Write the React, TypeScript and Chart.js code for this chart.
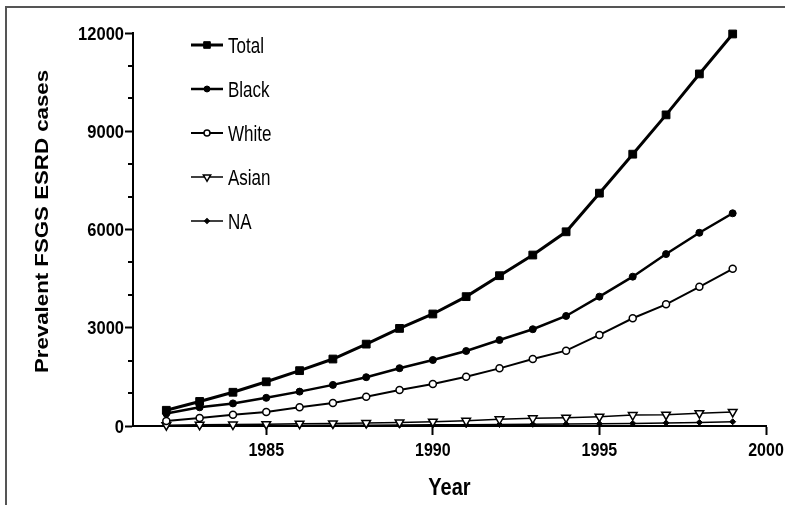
import React, { useEffect, useRef } from "react";
import { Chart, registerables } from "chart.js";

Chart.register(...registerables);

// ---- data ----
const years = [1982, 1983, 1984, 1985, 1986, 1987, 1988, 1989, 1990, 1991, 1992, 1993, 1994, 1995, 1996, 1997, 1998, 1999];
const total = [480, 750, 1030, 1350, 1690, 2045, 2500, 2980, 3420, 3950, 4590, 5220, 5930, 7110, 8300, 9500, 10750, 11970];
const black = [380, 570, 690, 860, 1050, 1255, 1490, 1765, 2015, 2290, 2625, 2955, 3360, 3950, 4560, 5250, 5900, 6495];
const white = [150, 245, 345, 430, 570, 705, 895, 1100, 1280, 1505, 1760, 2045, 2300, 2780, 3290, 3715, 4250, 4800];
const asian = [25, 35, 45, 55, 70, 80, 95, 110, 130, 160, 205, 235, 255, 285, 335, 345, 390, 430];
const na = [5, 8, 12, 15, 18, 22, 26, 30, 35, 40, 45, 52, 60, 70, 80, 95, 110, 130];
const seriesNames = ["Total", "Black", "White", "Asian", "NA"];
const yTickStep = 3000;
const yMinorStep = 1000;
const yMax = 12000;
const xMin = 1981;
const xMax = 2000;
const xTickStep = 5;
const yTitle = "Prevalent FSGS ESRD cases";
const xTitle = "Year";

const FONT = "'Liberation Sans', Arial, sans-serif";

function pts(vals: number[]) {
  return years.map((yr, i) => ({ x: yr, y: vals[i] }));
}

function drawMarker(ctx: CanvasRenderingContext2D, style: string, x: number, y: number, r: number, rot: number, fill: string, lw: number) {
  ctx.save();
  ctx.translate(x, y);
  ctx.rotate((rot * Math.PI) / 180);
  ctx.beginPath();
  if (style === "circle") ctx.arc(0, 0, r, 0, Math.PI * 2);
  else if (style === "rect") {
    const s = r * Math.SQRT1_2;
    ctx.rect(-s, -s, 2 * s, 2 * s);
  } else if (style === "rectRot") {
    const s = r * Math.SQRT1_2;
    ctx.rotate(Math.PI / 4);
    ctx.rect(-s, -s, 2 * s, 2 * s);
  } else if (style === "triangle") {
    ctx.moveTo(0, -r);
    ctx.lineTo(r * 0.866, r * 0.5);
    ctx.lineTo(-r * 0.866, r * 0.5);
    ctx.closePath();
  }
  ctx.fillStyle = fill;
  ctx.fill();
  ctx.lineWidth = lw;
  ctx.strokeStyle = "#000";
  ctx.stroke();
  ctx.restore();
}

function stretchedText(ctx: CanvasRenderingContext2D, text: string, x: number, y: number, sy: number, font: string, align: CanvasTextAlign) {
  ctx.save();
  ctx.fillStyle = "#000";
  ctx.translate(x, y);
  ctx.scale(1, sy);
  ctx.font = font;
  ctx.textAlign = align;
  ctx.textBaseline = "alphabetic";
  ctx.fillText(text, 0, 0);
  ctx.restore();
}

const decorPlugin = {
  id: "decor",
  beforeDraw(chart: any) {
    const ctx = chart.ctx as CanvasRenderingContext2D;
    ctx.save();
    ctx.fillStyle = "#fff";
    ctx.fillRect(0, 0, chart.width, chart.height);
    // picture frame (top & left edges)
    ctx.strokeStyle = "#555";
    ctx.lineWidth = 2;
    ctx.beginPath();
    ctx.moveTo(6, chart.height);
    ctx.lineTo(6, 7);
    ctx.lineTo(chart.width, 7);
    ctx.stroke();
    ctx.restore();
  },
  afterDraw(chart: any) {
    const ctx = chart.ctx as CanvasRenderingContext2D;
    const ys = chart.scales.y;
    const xs = chart.scales.x;
    const area = chart.chartArea;
    ctx.save();
    // minor y ticks
    ctx.strokeStyle = "#000";
    ctx.lineWidth = 2;
    ctx.beginPath();
    for (let v = yMinorStep; v < yMax; v += yMinorStep) {
      if (v % yTickStep === 0) continue;
      const py = Math.round(ys.getPixelForValue(v));
      ctx.moveTo(area.left - 5, py);
      ctx.lineTo(area.left, py);
    }
    ctx.stroke();

    // y tick labels (slightly tall, as in the reference)
    ys.ticks.forEach((t: any) => {
      const py = ys.getPixelForValue(t.value);
      stretchedText(ctx, String(t.value), area.left - 9, py + 6.6, 1.13, `bold 16.5px ${FONT}`, "right");
    });
    // x tick labels
    xs.ticks.forEach((t: any) => {
      const px = xs.getPixelForValue(t.value);
      stretchedText(ctx, String(t.value), px, 456, 1.13, `bold 16px ${FONT}`, "center");
    });

    // y title (rotated, stretched along its length)
    ctx.save();
    ctx.fillStyle = "#000";
    ctx.translate(48, (area.top + area.bottom) / 2 - 8);
    ctx.rotate(-Math.PI / 2);
    ctx.font = `bold 18px ${FONT}`;
    const w = ctx.measureText(yTitle).width;
    ctx.scale(303 / w, 1);
    ctx.textAlign = "center";
    ctx.textBaseline = "alphabetic";
    ctx.fillText(yTitle, 0, 0);
    ctx.restore();

    // x title
    stretchedText(ctx, xTitle, (xs.left + xs.right) / 2, 495, 1.18, `bold 20px ${FONT}`, "center");

    // legend
    const x0 = 191, x1 = 223, tx = 228, y0 = 45, step = 44;
    chart.data.datasets.forEach((ds: any, i: number) => {
      const ly = y0 + i * step;
      ctx.strokeStyle = "#000";
      ctx.lineWidth = ds.borderWidth;
      ctx.beginPath();
      ctx.moveTo(x0, ly);
      ctx.lineTo(x1, ly);
      ctx.stroke();
      drawMarker(ctx, ds.pointStyle, (x0 + x1) / 2, ly, ds.pointRadius * 0.85, ds.pointRotation || 0, ds.pointBackgroundColor, ds.pointBorderWidth);
      stretchedText(ctx, ds.label, tx, ly + 8, 1.3, `17px ${FONT}`, "left");
    });
    ctx.restore();
  },
};

export default function App() {
  const ref = useRef<HTMLCanvasElement | null>(null);
  useEffect(() => {
    if (!ref.current) return;
    const mk = (label: string, vals: number[], style: string, r: number, fill: string, bw: number, pbw: number, rot = 0) => ({
      label,
      data: pts(vals),
      borderColor: "#000",
      borderWidth: bw,
      pointStyle: style,
      pointRadius: r,
      pointRotation: rot,
      pointBackgroundColor: fill,
      pointBorderColor: "#000",
      pointBorderWidth: pbw,
      fill: false,
      tension: 0,
      clip: false,
    });
    const chart = new Chart(ref.current, {
      type: "line",
      data: {
        datasets: [
          mk(seriesNames[0], total, "rect", 5.5, "#000", 3, 1),
          mk(seriesNames[1], black, "circle", 3.5, "#000", 2.5, 1),
          mk(seriesNames[2], white, "circle", 3.5, "#fff", 2, 1.5),
          mk(seriesNames[3], asian, "triangle", 5, "#fff", 1.5, 1.5, 180),
          mk(seriesNames[4], na, "rectRot", 3, "#000", 1.5, 1),
        ] as any,
      },
      options: {
        animation: false,
        responsive: false,
        layout: { padding: { top: 33, right: 19, left: 0, bottom: 0 } },
        plugins: { legend: { display: false }, tooltip: { enabled: false }, title: { display: false } },
        scales: {
          x: {
            type: "linear",
            min: xMin,
            max: xMax,
            afterFit: (s: any) => {
              s.height = 79;
            },
            border: { display: true, color: "#000", width: 2 },
            grid: { display: true, drawOnChartArea: false, drawTicks: true, tickLength: 9, tickWidth: 2, tickColor: "#000" },
            ticks: {
              display: false,
              stepSize: xTickStep,
              includeBounds: false,
              autoSkip: false,
              maxRotation: 0,
              callback: (v: any) => String(v),
            },
          },
          y: {
            type: "linear",
            min: 0,
            max: yMax,
            afterFit: (s: any) => {
              s.width = 133;
            },
            border: { display: true, color: "#000", width: 2 },
            grid: { display: true, drawOnChartArea: false, drawTicks: true, tickLength: 8, tickWidth: 2, tickColor: "#000" },
            ticks: {
              display: false,
              stepSize: yTickStep,
              callback: (v: any) => String(v),
            },
          },
        },
      } as any,
      plugins: [decorPlugin],
    });
    return () => chart.destroy();
  }, []);
  return (
    <div style={{ position: "fixed", left: 0, top: 0, width: 785, height: 505, background: "#fff" }}>
      <canvas ref={ref} width={785} height={505} style={{ display: "block" }} />
    </div>
  );
}
